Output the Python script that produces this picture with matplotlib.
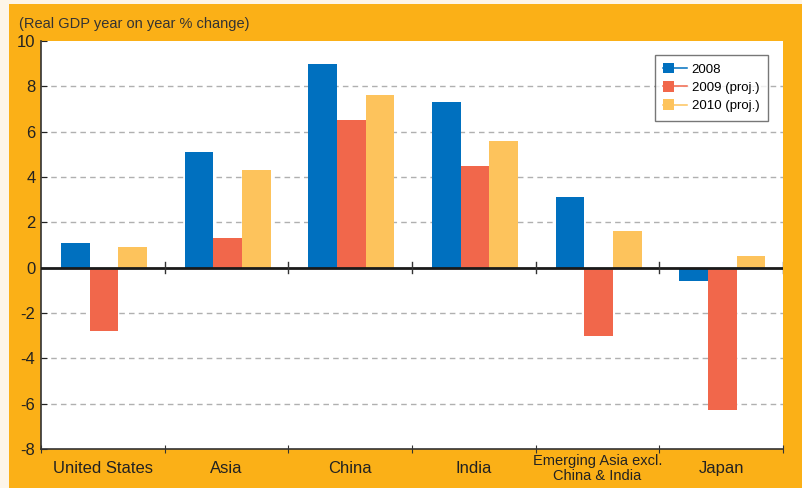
import matplotlib.pyplot as plt
import numpy as np
from matplotlib.lines import Line2D
from matplotlib.patches import Rectangle
from matplotlib.legend_handler import HandlerBase

plt.rcParams['font.family'] = ['Liberation Sans', 'DejaVu Sans']

regions = ["United States", "Asia", "China", "India", "Emerging Asia excl.\nChina & India", "Japan"]
gdp_2008 = [1.1, 5.1, 9.0, 7.3, 3.1, -0.6]
gdp_2009 = [-2.8, 1.3, 6.5, 4.5, -3.0, -6.3]
gdp_2010 = [0.9, 4.3, 7.6, 5.6, 1.6, 0.5]
series_labels = ["2008", "2009 (proj.)", "2010 (proj.)"]
colors = ["#0070bf", "#f1674b", "#fdc35c"]

orange = "#fbb017"
cream = "#fdf5e9"


class SquareLineHandler(HandlerBase):
    # small square on the left with a thin line running to the right
    def create_artists(self, legend, orig_handle, xdescent, ydescent, width, height,
                       fontsize, trans):
        c = orig_handle.get_facecolor()
        y = height / 2 - ydescent
        s = 0.8 * fontsize
        line = Line2D([-xdescent, width - xdescent], [y, y], color=c, lw=1.1, transform=trans)
        sq = Rectangle((-xdescent, y - s / 2), s, s, facecolor=c, edgecolor="none",
                       transform=trans)
        return [line, sq]


fig = plt.figure(figsize=(8.02, 4.88), dpi=100, facecolor=cream)
# orange panel
fig.patches.append(Rectangle((9 / 802, 0), 1, 1 - 4 / 488, transform=fig.transFigure,
                             facecolor=orange, edgecolor="none", zorder=-1))

ax = fig.add_axes([41 / 802, 1 - 449 / 488, (783 - 41) / 802, (449 - 41) / 488])
ax.set_facecolor("white")
ax.set_zorder(1)

x = np.arange(len(regions))
w = 0.232
bars = []
for i, (vals, lab, c) in enumerate(zip([gdp_2008, gdp_2009, gdp_2010], series_labels, colors)):
    b = ax.bar(x + (i - 1) * w + 0.01, vals, width=w, color=c, label=lab, zorder=3)
    bars.append(b[0])

ax.set_xlim(-0.5, len(regions) - 0.5)
ax.set_ylim(-8, 10)
ax.set_yticks(np.arange(-8, 11, 2))
ax.set_yticklabels([str(v) for v in range(-8, 11, 2)])
for v in range(-6, 10, 2):
    if v != 0:
        ax.axhline(v, color="#b0b0b0", lw=1, ls=(0, (4, 3)), zorder=1)
ax.axhline(0, color="#1a1a1a", lw=2, zorder=4)

# category boundary ticks
bounds = np.arange(0, len(regions) + 1) - 0.5
ax.set_xticks(bounds)
ax.set_xticklabels([])
ax.tick_params(axis="x", direction="inout", length=6, color="#333333")
for b in bounds[1:]:
    ax.plot([b, b], [-0.25, 0.25], color="#333333", lw=1, zorder=5)
for xi, name in zip(x, regions):
    fs = 10.5 if "\n" in name else 12
    ax.text(xi, -8.85, name, ha="center", va="center", fontsize=fs, color="#222222",
            linespacing=1.05, clip_on=False)

ax.tick_params(axis="y", direction="in", length=4, labelsize=12, colors="#222222", pad=4)
for s in ["top", "right"]:
    ax.spines[s].set_visible(False)
ax.spines["left"].set_color("#333333")
ax.spines["bottom"].set_color("#333333")
ax.spines["left"].set_linewidth(1.2)
ax.spines["bottom"].set_linewidth(1.2)

fig.text(19 / 802, 1 - 24 / 488, "(Real GDP year on year % change)", ha="left", va="center",
         fontsize=10.5, color="#333333")

leg = ax.legend(bars, series_labels, loc="upper right",
                bbox_to_anchor=(768 / 802, 1 - 55 / 488), bbox_transform=fig.transFigure,
                borderaxespad=0, handler_map={Rectangle: SquareLineHandler()},
                fontsize=9.5, frameon=True, fancybox=False, edgecolor="#555555",
                handlelength=1.8, handletextpad=0.35, borderpad=0.65, labelspacing=0.45)
leg.get_frame().set_linewidth(1)
leg.set_zorder(6)

fig.savefig("out.png", dpi=100, facecolor=cream)
